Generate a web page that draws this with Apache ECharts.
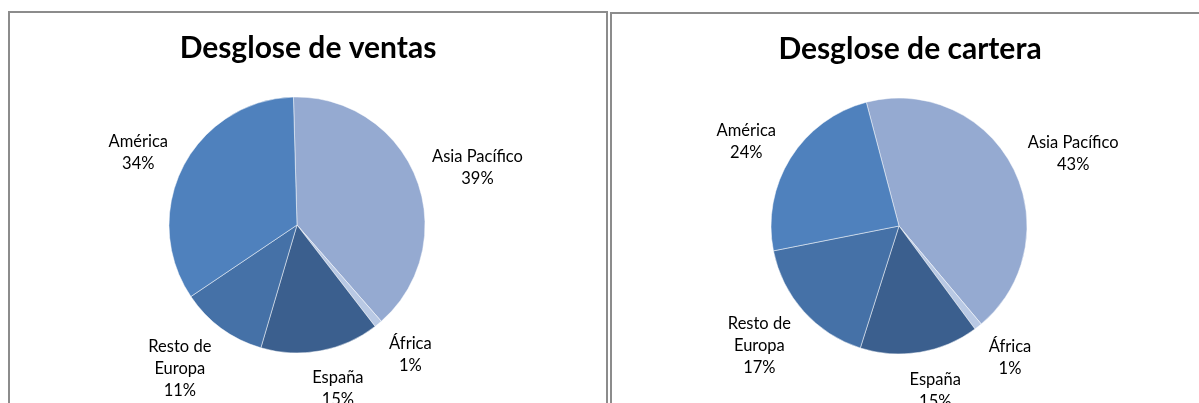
<!DOCTYPE html>
<html>
<head>
<meta charset="utf-8">
<script src="https://cdn.jsdelivr.net/npm/echarts@6/dist/echarts.min.js"></script>
<style>
  html, body { margin: 0; padding: 0; background: #ffffff; overflow: hidden; width: 1199px; height: 403px; }
  .panel { position: absolute; width: 596px; height: 420px; border: 2px solid #8c8c8c; box-sizing: content-box; background: #fff; }
  #p1 { left: 8px; top: 11px; }
  #p2 { left: 610px; top: 12px; }
  .chart { width: 596px; height: 420px; }
</style>
</head>
<body>
<div class="panel" id="p1"><div class="chart" id="c1"></div></div>
<div class="panel" id="p2"><div class="chart" id="c2"></div></div>
<script>
// ---- Data ----
const categories = ['Asia Pacífico', 'África', 'España', 'Resto de Europa', 'América'];
const labelNames = ['Asia Pacífico', 'África', 'España', 'Resto de\nEuropa', 'América'];
const ventasValues = [39, 1, 15, 11, 34];
const carteraValues = [43, 1, 15, 17, 24];
const chartTitles = ['Desglose de ventas', 'Desglose de cartera'];

// ---- Styles ----
const sliceColors = ['#95AAD1', '#B9C9E4', '#3B5F8E', '#4571A7', '#4F81BD'];
const CX = 287, CY = 212, RADIUS = 128, GAP = 17;

// Excel-like "outside end" label placement derived from the slice mid-angle.
function makeLayout(values, offsetDeg) {
  const total = values.reduce((a, b) => a + b, 0);
  const clamp = v => Math.max(-1, Math.min(1, v));
  return function (params) {
    let cum = 0;
    for (let k = 0; k < params.dataIndex; k++) cum += values[k];
    const mid = (offsetDeg + (cum + values[params.dataIndex] / 2) / total * 360) * Math.PI / 180;
    const dx = Math.sin(mid), dy = -Math.cos(mid);
    const w = params.labelRect.width, h = params.labelRect.height;
    const R = RADIUS + GAP;
    const ex = clamp(3 * dx), ey = 0.86 * dy + 0.12;
    return {
      x: CX + dx * R + ex * w / 2,
      y: CY + dy * R + ey * h / 2,
      align: 'center',
      verticalAlign: 'middle'
    };
  };
}

function buildOption(title, values, offsetDeg) {
  return {
    animation: false,
    title: {
      text: title,
      left: 'center',
      top: 15,
      textStyle: { fontFamily: 'Lato', fontWeight: 'bold', fontSize: 30, color: '#000' }
    },
    color: sliceColors,
    series: [{
      type: 'pie',
      center: [CX, CY],
      radius: RADIUS,
      startAngle: 90 - offsetDeg,
      clockwise: true,
      data: categories.map((c, i) => ({ name: labelNames[i], value: values[i] })),
      itemStyle: { borderColor: 'rgba(255,255,255,0.6)', borderWidth: 0.8 },
      label: {
        show: true,
        position: 'outside',
        formatter: p => p.name + '\n' + Math.round(p.percent) + '%',
        fontFamily: 'Lato',
        fontSize: 16.5,
        lineHeight: 22,
        color: '#000'
      },
      labelLine: { show: false },
      labelLayout: makeLayout(values, offsetDeg),
      emphasis: { disabled: true }
    }]
  };
}

const c1 = echarts.init(document.getElementById('c1'));
c1.setOption(buildOption(chartTitles[0], ventasValues, -1.6));
const c2 = echarts.init(document.getElementById('c2'));
c2.setOption(buildOption(chartTitles[1], carteraValues, -14.8));
</script>
</body>
</html>
